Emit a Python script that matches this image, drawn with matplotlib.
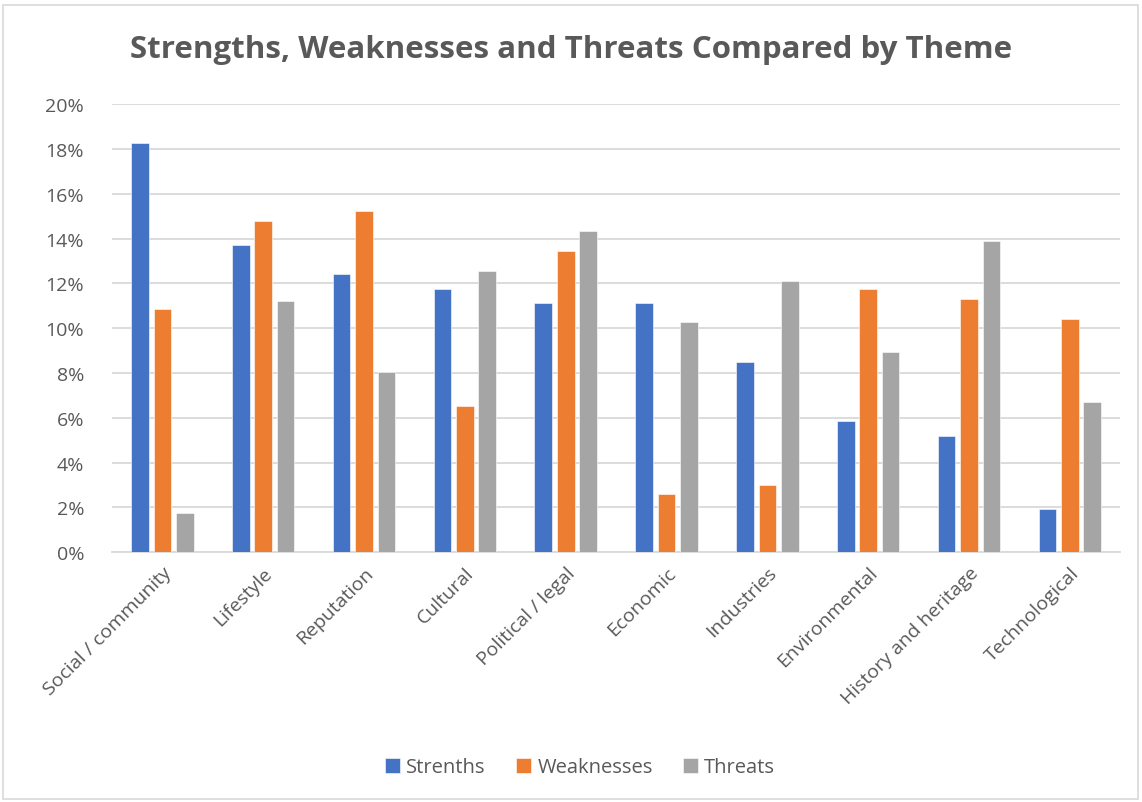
import numpy as np
import matplotlib.pyplot as plt
from matplotlib.patches import Rectangle
from matplotlib.ticker import PercentFormatter

# Werte
themen = ['Social / community', 'Lifestyle', 'Reputation', 'Cultural',
          'Political / legal', 'Economic', 'Industries', 'Environmental',
          'History and heritage', 'Technological']
strengths = [18.28, 13.71, 12.40, 11.75, 11.11, 11.11, 8.49, 5.87, 5.21, 1.95]
weaknesses = [10.87, 14.77, 15.22, 6.51, 13.46, 2.58, 3.02, 11.73, 11.29, 10.42]
threats = [1.77, 11.20, 8.06, 12.55, 14.32, 10.30, 12.10, 8.96, 13.88, 6.70]
serien = ['Strenths', 'Weaknesses', 'Threats']
farben = ['#4472C4', '#ED7D31', '#A5A5A5']

plt.rcParams['font.family'] = ['Open Sans', 'DejaVu Sans']
textfarbe = '#595959'

fig = plt.figure(figsize=(11.42, 8.03), dpi=100)
ax = fig.add_axes([0.098, 0.311, 0.883, 0.558])

# Rahmen um das ganze Diagramm
fig.patches.append(Rectangle((3 / 1142, 3 / 803), 1135 / 1142, 794 / 803,
                             transform=fig.transFigure, fill=False,
                             edgecolor='#D9D9D9', linewidth=1.2))

x = np.arange(len(themen))
breite = 0.175
abstand = 0.222
for i, (werte, name, farbe) in enumerate(zip([strengths, weaknesses, threats], serien, farben)):
    ax.bar(x + (i - 1) * abstand, np.array(werte) / 100, width=breite,
           color=farbe, edgecolor='white', linewidth=0.4, label=name, zorder=3)

ax.set_xlim(-0.5, len(themen) - 0.5)
ax.set_ylim(0, 0.20)
ax.set_yticks(np.arange(0, 0.201, 0.02))
ax.yaxis.set_major_formatter(PercentFormatter(1.0, decimals=0))
ax.grid(axis='y', color='#D9D9D9', linewidth=1.3, zorder=0)
for s in ['top', 'right', 'left']:
    ax.spines[s].set_visible(False)
ax.spines['bottom'].set_color('#D9D9D9')
ax.spines['bottom'].set_linewidth(1.3)
ax.tick_params(axis='both', length=0, labelsize=14, colors=textfarbe)
ax.tick_params(axis='y', pad=20)
ax.set_xticks(x)
ax.set_xticklabels(themen, rotation=45, ha='right', rotation_mode='anchor')
ax.tick_params(axis='x', pad=8)
for lab in ax.get_yticklabels():
    lab.set_horizontalalignment('right')

fig.text(0.5, 0.938, 'Strengths, Weaknesses and Threats Compared by Theme',
         ha='center', va='center', fontsize=22.5, fontweight='bold', color=textfarbe)

leg = fig.legend(loc='center', bbox_to_anchor=(0.508, 0.043), ncol=3, frameon=False,
                 fontsize=14.5, handlelength=0.75, handleheight=0.75,
                 handletextpad=0.3, columnspacing=1.5)
for t in leg.get_texts():
    t.set_color(textfarbe)

plt.savefig('out.png', dpi=100)
